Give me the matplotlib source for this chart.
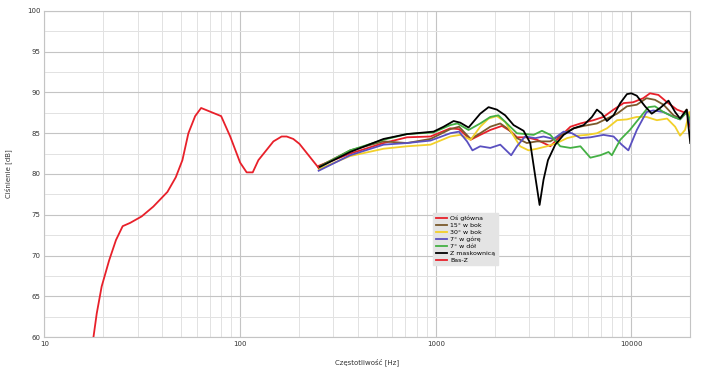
import matplotlib
matplotlib.use('Agg')
import matplotlib.pyplot as plt
import numpy as np

# Bas-Z (low frequency)
bas_f = [17.8, 18.5, 19.6, 21.4, 23.2, 25.1, 27.4, 31.4, 36.0, 42.5, 46.9, 50.7, 54.4,
         58.9, 63.2, 80, 89, 100, 108, 116, 124, 136, 148, 163, 173, 187, 201, 251]
bas_db = [60.0, 62.9, 66.2, 69.4, 71.9, 73.6, 74.0, 74.8, 76.0, 77.8, 79.6, 81.7, 85.0,
          87.1, 88.1, 87.1, 84.6, 81.4, 80.2, 80.2, 81.7, 82.9, 84.0, 84.6, 84.6, 84.3, 83.7, 80.8]

# Z maskownica
black_f = [252, 365, 541, 713, 975, 1097, 1234, 1334, 1471, 1688, 1862, 2053, 2265, 2500,
           2812, 3041, 3226, 3395, 3556, 3747, 4083, 4505, 5067, 5705, 6286, 6668, 7069,
           7496, 8110, 8774, 9492, 10000, 10660, 11750, 12700, 14030, 15480, 16740, 17740,
           19180, 20000]
black_db = [80.8, 82.7, 84.3, 84.9, 85.2, 85.8, 86.5, 86.3, 85.7, 87.4, 88.2, 87.9, 87.2, 86.0,
            85.3, 83.8, 79.7, 76.2, 79.3, 81.7, 83.6, 84.8, 85.6, 86.0, 87.0, 87.9, 87.4,
            86.5, 87.2, 88.7, 89.8, 89.9, 89.6, 88.3, 87.4, 88.1, 89.0, 87.6, 86.8,
            87.9, 83.8]

# 7 deg down
green_f = [252, 365, 541, 713, 975, 1186, 1290, 1471, 1688, 1900, 2090, 2310, 2600, 2860,
           3165, 3490, 3852, 4330, 4880, 5490, 6170, 6940, 7640, 7950, 8774, 9820, 10860,
           12210, 13200, 14600, 16420, 17740, 19180, 20000]
green_db = [80.8, 82.9, 84.2, 84.9, 85.1, 86.0, 86.2, 85.4, 86.2, 87.0, 87.2, 86.2, 85.0, 84.9,
            84.8, 85.3, 84.8, 83.4, 83.2, 83.4, 82.0, 82.3, 82.7, 82.3, 84.2, 85.4, 86.7,
            88.2, 88.3, 87.6, 87.0, 86.7, 87.6, 86.6]

# 7 deg up
blue_f = [252, 365, 541, 713, 940, 1186, 1315, 1445, 1540, 1688, 1900, 2137, 2430, 2600,
          2860, 3226, 3556, 4000, 4505, 4970, 5490, 6170, 7200, 8110, 8920, 9650, 10660,
          11950, 12940, 14600, 16420, 17740, 19180, 20000]
blue_db = [80.4, 82.3, 83.6, 83.8, 84.1, 85.0, 85.2, 84.0, 82.9, 83.4, 83.2, 83.6, 82.3, 83.4,
           84.6, 84.4, 84.6, 84.3, 85.2, 85.0, 84.4, 84.5, 84.8, 84.6, 83.6, 82.9, 85.4,
           87.6, 87.8, 87.6, 87.0, 86.7, 87.6, 86.2]

# 30 deg side
yellow_f = [252, 365, 541, 713, 940, 1186, 1334, 1508, 1688, 1862, 2053, 2265, 2453, 2700,
            2980, 3290, 3700, 4160, 4690, 5280, 5920, 6670, 7500, 8450, 9490, 10660, 11950,
            13500, 15230, 16740, 17740, 18800, 19800, 20000]
yellow_db = [80.6, 82.2, 83.1, 83.4, 83.6, 84.6, 84.8, 84.2, 85.8, 86.8, 87.1, 86.4, 85.0, 83.4,
             82.9, 83.1, 83.4, 83.8, 84.4, 84.7, 84.8, 85.0, 85.6, 86.6, 86.7, 87.0, 87.0,
             86.6, 86.8, 85.8, 84.7, 85.4, 87.6, 86.6]

# 15 deg side
brown_f = [252, 365, 541, 713, 940, 1186, 1315, 1508, 1688, 1900, 2137, 2350, 2600, 2920,
           3290, 3852, 4505, 5067, 5705, 6670, 7500, 8450, 9490, 10660, 11950, 13200, 14600,
           16420, 17740, 19180, 20000]
brown_db = [80.9, 82.9, 84.0, 83.8, 84.3, 85.5, 85.8, 84.3, 85.0, 85.8, 86.2, 85.5, 84.4, 83.8,
            84.0, 84.0, 85.0, 85.6, 85.9, 86.2, 86.8, 87.4, 88.3, 88.5, 89.3, 89.1, 88.5,
            87.2, 86.8, 87.9, 86.4]

# main axis
red_f = [252, 365, 541, 713, 940, 1186, 1315, 1508, 1688, 1900, 2180, 2430, 2600, 2920,
         3290, 3852, 4240, 4880, 5490, 6400, 7200, 8110, 9130, 10200, 11500, 12450, 13750,
         15230, 17100, 18440, 19500, 20000]
red_db = [81.0, 82.5, 83.8, 84.5, 84.6, 85.6, 85.5, 84.2, 84.8, 85.4, 85.9, 85.2, 84.5, 84.5,
          84.2, 83.4, 84.4, 85.8, 86.2, 86.6, 87.0, 87.9, 88.7, 88.8, 89.3, 89.9, 89.7,
          88.8, 87.9, 87.6, 87.4, 85.8]

labels = ['Oś główna', '15° w bok', '30° w bok', '7° w górę', '7° w dół', 'Z maskownicą', 'Bas-Z']
colors = ['#e8202a', '#7a5a2c', '#f2d02a', '#5a50c0', '#44b044', '#000000', '#e8202a']

fig = plt.figure(figsize=(7.05, 3.71), dpi=100)
ax = fig.add_axes([0.0631, 0.0916, 0.916, 0.8788])

series = [(red_f, red_db), (brown_f, brown_db), (yellow_f, yellow_db), (blue_f, blue_db),
          (green_f, green_db), (black_f, black_db), (bas_f, bas_db)]
order = [3, 2, 4, 1, 0, 5, 6]
handles = [None] * len(series)
for i in order:
    f, db = series[i]
    handles[i], = ax.plot(f, db, color=colors[i], lw=1.3, label=labels[i], zorder=3 + i)

ax.set_xscale('log')
ax.set_xlim(10, 20000)
ax.set_ylim(60, 100)
ax.set_yticks(np.arange(60, 101, 5))
ax.set_yticks(np.arange(62.5, 100, 5), minor=True)
ax.set_xticks([10, 100, 1000, 10000])
ax.set_xticklabels(['10', '100', '1000', '10000'])
ax.xaxis.set_minor_formatter(matplotlib.ticker.NullFormatter())
ax.grid(which='major', color='#c4c4c4', lw=0.8)
ax.grid(which='minor', color='#e2e2e2', lw=0.7)
ax.tick_params(which='both', length=0, labelsize=5, labelcolor='#333333', pad=3)
for s in ax.spines.values():
    s.set_color('#c4c4c4')
    s.set_linewidth(0.8)

ax.set_xlabel('Częstotliwość [Hz]', fontsize=5, color='#333333')
ax.set_ylabel('Ciśnienie [dB]', fontsize=5, color='#333333')
ax.xaxis.set_label_coords(0.5, -0.064)
ax.yaxis.set_label_coords(-0.05, 0.5)

leg = ax.legend(handles=handles, loc='upper left', bbox_to_anchor=(0.602, 0.38),
                fontsize=4.5, frameon=True, fancybox=False, handlelength=1.8,
                handletextpad=0.5, labelspacing=0.25, borderpad=0.4, borderaxespad=0)
leg.get_frame().set_facecolor('#e4e4e4')
leg.get_frame().set_edgecolor('#e4e4e4')
leg.get_frame().set_alpha(1)

plt.savefig('out.png', dpi=100)
